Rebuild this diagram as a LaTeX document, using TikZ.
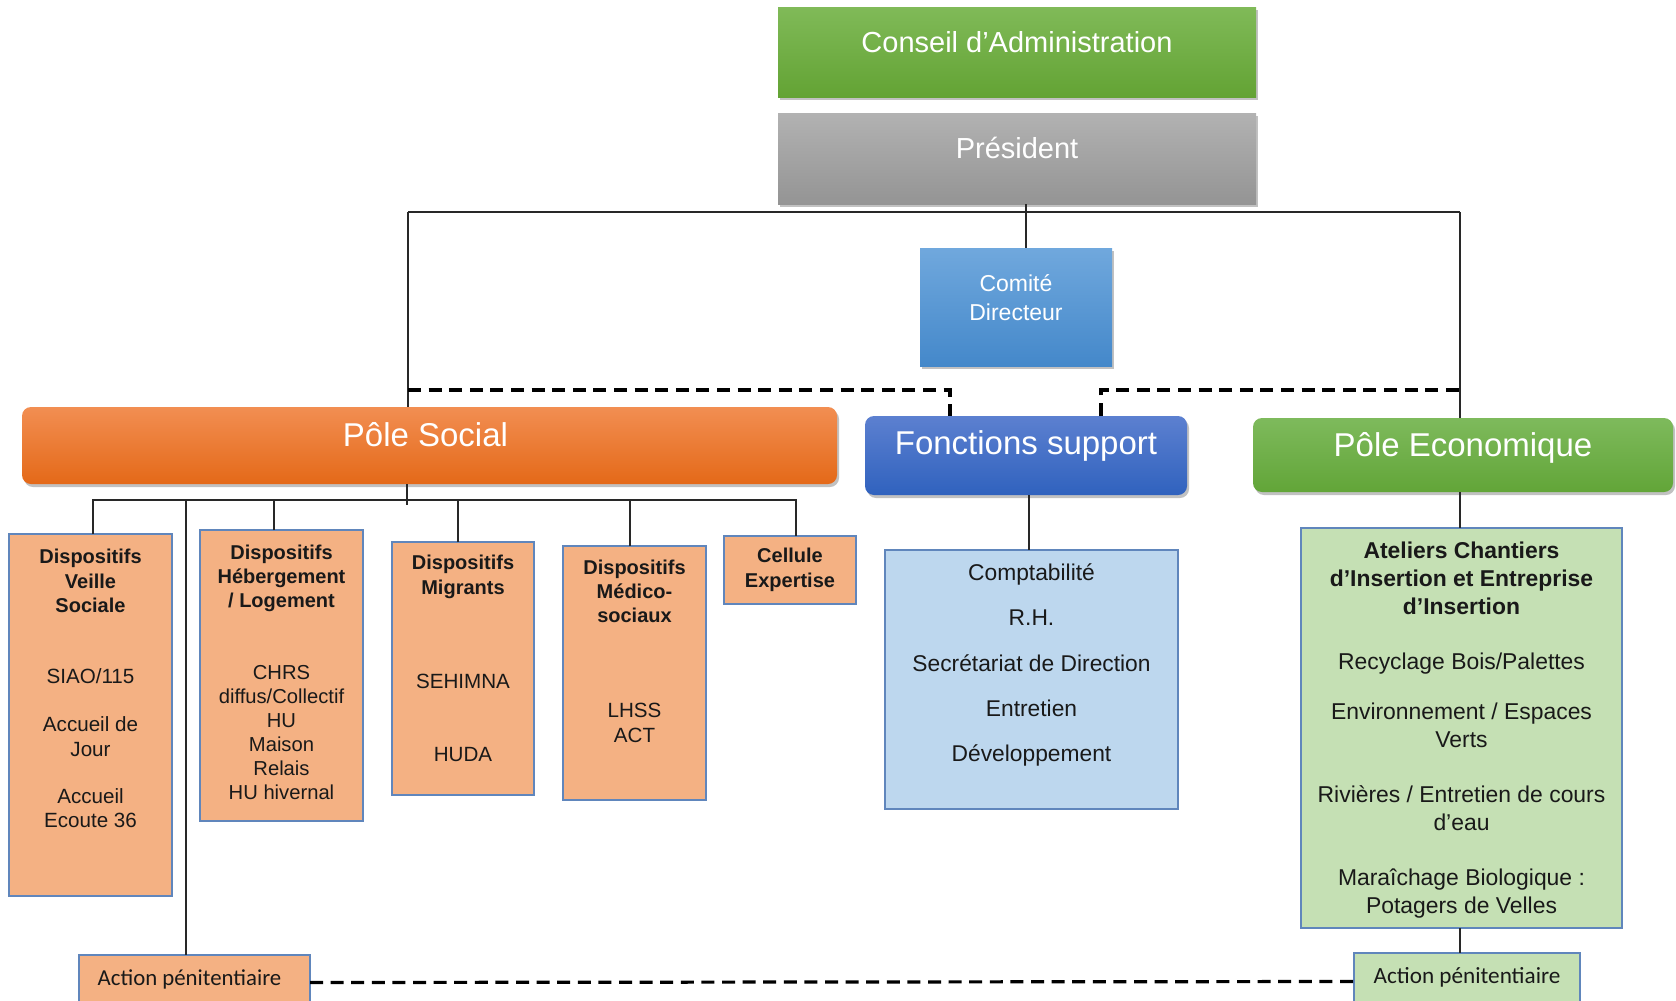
\documentclass[tikz,border=0pt]{standalone}
\usepackage{fontspec}
\setmainfont{Liberation Sans}
\newfontfamily\calib{Carlito}
\usetikzlibrary{shadows}
\newcommand\hdline[1]{{\fontsize{10}{12}\selectfont\bfseries #1}}
\definecolor{cgtop}{RGB}{128,186,88}
\definecolor{cgbot}{RGB}{99,163,52}
\definecolor{grtop}{RGB}{178,178,178}
\definecolor{grbot}{RGB}{148,148,148}
\definecolor{cbtop}{RGB}{112,168,221}
\definecolor{cbbot}{RGB}{68,136,202}
\definecolor{ortop}{RGB}{242,142,82}
\definecolor{orbot}{RGB}{228,105,24}
\definecolor{fstop}{RGB}{92,128,208}
\definecolor{fsbot}{RGB}{48,98,190}
\definecolor{egtop}{RGB}{126,186,92}
\definecolor{egbot}{RGB}{98,165,56}
\definecolor{orfill}{RGB}{244,177,131}
\definecolor{blfill}{RGB}{189,215,238}
\definecolor{gnfill}{RGB}{197,224,180}
\definecolor{bordblue}{RGB}{96,134,188}
\definecolor{linegray}{RGB}{40,40,40}
\definecolor{txtdark}{RGB}{25,25,25}
\begin{document}
\begin{tikzpicture}[x=0.5pt,y=-0.5pt,
  topbox/.style={draw=none, inner sep=0pt, outer sep=0pt,
    drop shadow={shadow xshift=1pt, shadow yshift=-1.5pt, opacity=0.35, fill=black!70}},
  polebox/.style={topbox, rounded corners=4.5pt},
  toplab/.style={text=white, inner sep=0pt},
  dispbox/.style={draw=bordblue, line width=0.75pt, fill=orfill, inner sep=0pt, outer sep=0pt},
  listbox/.style={draw=bordblue, line width=0.75pt, inner sep=0pt, outer sep=0pt},
  boxtext/.style={anchor=north, align=center, inner sep=0pt, text=txtdark},
  conn/.style={draw=linegray, line width=0.8pt},
  dashl/.style={draw=black, line width=1.6pt, dash pattern=on 6.5pt off 3.8pt}]
\useasboundingbox (0,0) rectangle (1676,1001);
\clip (0,0) rectangle (1676,1001);

% top boxes
\node[topbox, top color=cgtop, bottom color=cgbot, minimum width=239pt, minimum height=45pt,
  label={[toplab, yshift=4.8pt, font=\fontsize{14.5}{17}\selectfont]center:Conseil d’Administration}] (conseil) at (1017,52) {};
\node[topbox, top color=grtop, bottom color=grbot, minimum width=239pt, minimum height=45.5pt,
  label={[toplab, yshift=5.2pt, font=\fontsize{14.5}{17}\selectfont]center:Président}] (president) at (1017,158.5) {};
\node[topbox, top color=cbtop, bottom color=cbbot, minimum width=96pt, minimum height=59pt,
  label={[align=center, text=white, inner sep=0pt, yshift=4.75pt, font=\fontsize{11.5}{14.5}\selectfont]center:Comité\\Directeur}] (comite) at (1016,307) {};

% poles
\node[polebox, top color=ortop, bottom color=orbot, minimum width=407.5pt, minimum height=38.5pt,
  label={[toplab, yshift=5.3pt, xshift=-2pt, font=\fontsize{16.5}{19}\selectfont]center:Pôle Social}] (social) at (429.5,445.5) {};
\node[polebox, top color=fstop, bottom color=fsbot, minimum width=161pt, minimum height=39.5pt,
  label={[toplab, yshift=4.8pt, font=\fontsize{16.5}{19}\selectfont]center:Fonctions support}] (fonct) at (1026,455.5) {};
\node[polebox, top color=egtop, bottom color=egbot, minimum width=210pt, minimum height=37pt,
  label={[toplab, yshift=3.6pt, font=\fontsize{16.5}{19}\selectfont]center:Pôle Economique}] (eco) at (1463,455) {};

% dispositifs
\node[dispbox, minimum width=81.5pt, minimum height=181pt] (veille) at (90.5,715) {};
\node[dispbox, minimum width=81.5pt, minimum height=145.5pt] (heb) at (281.5,675.5) {};
\node[dispbox, minimum width=71pt, minimum height=126.5pt] (migr) at (463,668.5) {};
\node[dispbox, minimum width=71.5pt, minimum height=127pt] (medico) at (634.5,673) {};
\node[dispbox, minimum width=66pt, minimum height=34pt, align=center, text=txtdark,
  font=\fontsize{10}{12.5}\selectfont\bfseries] (cellule) at (790,570) {Cellule\\Expertise};

\node[boxtext, font=\fontsize{10.3}{12.25}\selectfont] (veilleT) at (90.5,548.6)
  {\hdline{Dispositifs}\\\hdline{Veille}\\\hdline{Sociale}\\[23.25pt]SIAO/115\\[11.75pt]Accueil de\\Jour\\[11.25pt]Accueil\\Ecoute 36};
\node[boxtext, font=\fontsize{10.1}{12}\selectfont] (hebT) at (281.5,544.6)
  {\hdline{Dispositifs}\\\hdline{Hébergement}\\\hdline{/ Logement}\\[24pt]CHRS\\diffus/Collectif\\HU\\Maison\\Relais\\HU hivernal};
\node[boxtext, font=\fontsize{10.3}{12.25}\selectfont] (migrT) at (463,554.6)
  {\hdline{Dispositifs}\\\hdline{Migrants}\\[35.25pt]SEHIMNA\\[23.75pt]HUDA};
\node[boxtext, font=\fontsize{10.3}{12}\selectfont] (medicoT) at (634.5,559.6)
  {\hdline{Dispositifs}\\\hdline{Médico-}\\\hdline{sociaux}\\[35.5pt]LHSS\\[0.5pt]ACT};

% fonctions support list
\node[listbox, fill=blfill, minimum width=146.5pt, minimum height=129.5pt] (fonclist) at (1031.5,679.5) {};
\node[boxtext, font=\fontsize{11.4}{22.6}\selectfont] (foncT) at (1031.5,563.6)
  {Comptabilité\\R.H.\\Secrétariat de Direction\\Entretien\\Développement};

% economique list
\node[listbox, fill=gnfill, minimum width=160.5pt, minimum height=200pt] (ecolist) at (1461.5,728) {};
\node[boxtext, font=\fontsize{11.45}{14}\selectfont] (ecoT) at (1461.5,541.5)
  {\textbf{Ateliers Chantiers}\\\textbf{d’Insertion et Entreprise}\\\textbf{d’Insertion}\\[13.5pt]Recyclage Bois/Palettes\\[11pt]Environnement / Espaces\\Verts\\[13.5pt]Rivières / Entretien de cours\\d’eau\\[13.5pt]Maraîchage Biologique :\\Potagers de Velles};

% action penitentiaire
\node[dispbox, minimum width=115.5pt, minimum height=27.5pt,
  label={[inner sep=0pt, text=txtdark, xshift=-2.5pt, yshift=1.6pt, font=\calib\fontsize{11.4}{13}\selectfont]center:Action pénitentiaire}] (actL) at (194.5,982.5) {};
\node[listbox, fill=gnfill, minimum width=113pt, minimum height=28.5pt,
  label={[inner sep=0pt, text=txtdark, yshift=2.3pt, font=\calib\fontsize{11.6}{13}\selectfont]center:Action pénitentiaire}] (actR) at (1467,981.5) {};

% connectors
\coordinate (busL) at (408,212);
\coordinate (busR) at (1460,212);
\draw[conn] (busL) -- (busR);
\draw[conn] (busL) -- (busL |- social.north);
\draw[conn] (busR) -- (busR |- eco.north);
\draw[conn] ([xshift=4.5pt]president.south) -- ([xshift=5pt]comite.north);

\coordinate (dL) at (408,390);
\coordinate (dR) at (1460,390);
\draw[dashl] (dL) -| ([xshift=-38pt]fonct.north);
\draw[dashl] ([xshift=37.5pt]fonct.north) |- (dR);

\coordinate (sbus) at (407,500);
\draw[conn] ([xshift=-11.25pt]social.south) -- ([yshift=-2.5pt]sbus);
\draw[conn] ([xshift=1.25pt]veille.north) -- ([xshift=1.25pt]veille.north |- sbus) -- ([xshift=3pt]cellule.north |- sbus) -- ([xshift=3pt]cellule.north);
\draw[conn] ([xshift=-3.75pt]heb.north) -- ([xshift=-3.75pt]heb.north |- sbus);
\draw[conn] ([xshift=-2.5pt]migr.north) -- ([xshift=-2.5pt]migr.north |- sbus);
\draw[conn] ([xshift=-2.25pt]medico.north) -- ([xshift=-2.25pt]medico.north |- sbus);
\draw[conn] ([xshift=-4.25pt]actL.north |- sbus) -- ([xshift=-4.25pt]actL.north);

\draw[conn] ([xshift=1.5pt]fonct.south) -- ([xshift=1.5pt]fonct.south |- fonclist.north);
\draw[conn] (busR |- eco.south) -- (busR |- ecolist.north);
\draw[conn] (busR |- ecolist.south) -- (busR |- actR.north);

\draw[dashl] (actL.east) -- (actR.west);
\end{tikzpicture}
\end{document}
